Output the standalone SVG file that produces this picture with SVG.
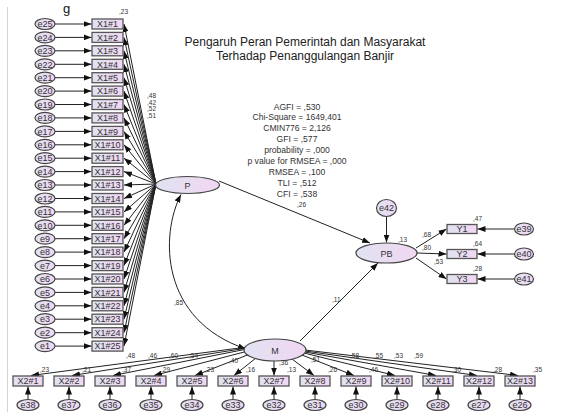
<svg xmlns="http://www.w3.org/2000/svg" width="579" height="412" viewBox="0 0 579 412">
<defs>
<linearGradient id="fillG" x1="0" y1="0" x2="1" y2="0">
<stop offset="0" stop-color="#dfe3f1"/>
<stop offset="1" stop-color="#f2d6f2"/>
</linearGradient>
<marker id="ah" markerWidth="9" markerHeight="6" refX="8" refY="3" orient="auto-start-reverse" markerUnits="userSpaceOnUse">
<path d="M0,0 L8,3 L0,6 z" fill="#111"/>
</marker>
</defs>
<style>
.bx{fill:url(#fillG);stroke:#555;stroke-width:1.3}
.el{fill:url(#fillG);stroke:#444;stroke-width:1.2}
.t{font-family:"Liberation Sans",Arial,sans-serif;font-size:9px;fill:#333;text-anchor:middle}
.s{font-family:"Liberation Sans",Arial,sans-serif;font-size:6.5px;fill:#333}
.st{font-family:"Liberation Sans",Arial,sans-serif;font-size:8.6px;fill:#333;text-anchor:middle}
.ti{font-family:"Liberation Sans",Arial,sans-serif;font-size:12px;fill:#222;text-anchor:middle}
.c line,.c path{stroke:#222;stroke-width:1;fill:none;marker-end:url(#ah)}
</style>
<rect width="579" height="412" fill="#fff"/>
<line x1="7.5" y1="7" x2="7.5" y2="412" stroke="#d4d4d4" stroke-width="1"/>
<text x="63" y="12.5" font-family="Liberation Sans,Arial,sans-serif" font-size="13" fill="#111">g</text>
<text class="ti" x="305" y="46">Pengaruh Peran Pemerintah dan Masyarakat</text>
<text class="ti" x="305" y="60">Terhadap Penanggulangan Banjir</text>
<g id="stats">
<text class="st" x="297" y="109.5">AGFI = ,530</text>
<text class="st" x="297" y="120.4">Chi-Square = 1649,401</text>
<text class="st" x="297" y="131.3">CMIN776 = 2,126</text>
<text class="st" x="297" y="142.2">GFI = ,577</text>
<text class="st" x="297" y="153.1">probability = ,000</text>
<text class="st" x="297" y="164">p value for RMSEA = ,000</text>
<text class="st" x="297" y="174.9">RMSEA = ,100</text>
<text class="st" x="297" y="185.8">TLI = ,512</text>
<text class="st" x="297" y="196.7">CFI = ,538</text>
</g>
<g id="connectors" class="c">
<line x1="55" y1="24" x2="91.5" y2="24"/>
<line x1="55" y1="37.4" x2="91.5" y2="37.4"/>
<line x1="55" y1="50.8" x2="91.5" y2="50.8"/>
<line x1="55" y1="64.3" x2="91.5" y2="64.3"/>
<line x1="55" y1="77.7" x2="91.5" y2="77.7"/>
<line x1="55" y1="91.1" x2="91.5" y2="91.1"/>
<line x1="55" y1="104.5" x2="91.5" y2="104.5"/>
<line x1="55" y1="117.9" x2="91.5" y2="117.9"/>
<line x1="55" y1="131.4" x2="91.5" y2="131.4"/>
<line x1="55" y1="144.8" x2="91.5" y2="144.8"/>
<line x1="55" y1="158.2" x2="91.5" y2="158.2"/>
<line x1="55" y1="171.6" x2="91.5" y2="171.6"/>
<line x1="55" y1="185" x2="91.5" y2="185"/>
<line x1="55" y1="198.5" x2="91.5" y2="198.5"/>
<line x1="55" y1="211.9" x2="91.5" y2="211.9"/>
<line x1="55" y1="225.3" x2="91.5" y2="225.3"/>
<line x1="55" y1="238.7" x2="91.5" y2="238.7"/>
<line x1="55" y1="252.1" x2="91.5" y2="252.1"/>
<line x1="55" y1="265.6" x2="91.5" y2="265.6"/>
<line x1="55" y1="279" x2="91.5" y2="279"/>
<line x1="55" y1="292.4" x2="91.5" y2="292.4"/>
<line x1="55" y1="305.8" x2="91.5" y2="305.8"/>
<line x1="55" y1="319.2" x2="91.5" y2="319.2"/>
<line x1="55" y1="332.7" x2="91.5" y2="332.7"/>
<line x1="55" y1="346.1" x2="91.5" y2="346.1"/>
<line x1="156" y1="184" x2="124" y2="24"/>
<line x1="156" y1="184" x2="124" y2="37.4"/>
<line x1="156" y1="184" x2="124" y2="50.8"/>
<line x1="156" y1="184" x2="124" y2="64.3"/>
<line x1="156" y1="184" x2="124" y2="77.7"/>
<line x1="156" y1="184" x2="124" y2="91.1"/>
<line x1="156" y1="184" x2="124" y2="104.5"/>
<line x1="156" y1="184" x2="124" y2="117.9"/>
<line x1="156" y1="184" x2="124" y2="131.4"/>
<line x1="156" y1="184" x2="124" y2="144.8"/>
<line x1="156" y1="184" x2="124" y2="158.2"/>
<line x1="156" y1="184" x2="124" y2="171.6"/>
<line x1="156" y1="184" x2="124" y2="185"/>
<line x1="156" y1="184" x2="124" y2="198.5"/>
<line x1="156" y1="184" x2="124" y2="211.9"/>
<line x1="156" y1="184" x2="124" y2="225.3"/>
<line x1="156" y1="184" x2="124" y2="238.7"/>
<line x1="156" y1="184" x2="124" y2="252.1"/>
<line x1="156" y1="184" x2="124" y2="265.6"/>
<line x1="156" y1="184" x2="124" y2="279"/>
<line x1="156" y1="184" x2="124" y2="292.4"/>
<line x1="156" y1="184" x2="124" y2="305.8"/>
<line x1="156" y1="184" x2="124" y2="319.2"/>
<line x1="156" y1="184" x2="124" y2="332.7"/>
<line x1="156" y1="184" x2="124" y2="346.1"/>
<line x1="219" y1="181" x2="370" y2="243"/>
<line x1="386.5" y1="216.5" x2="386.5" y2="242.5"/>
<line x1="300" y1="341" x2="378" y2="263"/>
<path d="M246,349 C160,320 160,235 181,194.5" style="marker-start:url(#ah)"/>
<line x1="416" y1="248" x2="446.5" y2="229"/>
<line x1="417" y1="253" x2="446.5" y2="254"/>
<line x1="416" y1="258" x2="446.5" y2="279"/>
<line x1="514.5" y1="229" x2="477.5" y2="229"/>
<line x1="514.5" y1="254" x2="477.5" y2="254"/>
<line x1="514.5" y1="279" x2="477.5" y2="279"/>
<line x1="247" y1="347" x2="31" y2="375.5"/>
<line x1="247" y1="348" x2="72" y2="375.5"/>
<line x1="247" y1="349" x2="113" y2="375.5"/>
<line x1="248" y1="351" x2="154" y2="375.5"/>
<line x1="250" y1="354" x2="195" y2="375.5"/>
<line x1="256" y1="358" x2="234" y2="375.5"/>
<line x1="274" y1="361" x2="274" y2="375.5"/>
<line x1="292" y1="359" x2="314" y2="375.5"/>
<line x1="302" y1="355" x2="354" y2="375.5"/>
<line x1="304" y1="353" x2="395" y2="375.5"/>
<line x1="305" y1="352" x2="436" y2="375.5"/>
<line x1="305" y1="351" x2="477" y2="375.5"/>
<line x1="305" y1="350" x2="518" y2="375.5"/>
<line x1="28" y1="399.5" x2="28" y2="386.5"/>
<line x1="69" y1="399.5" x2="69" y2="386.5"/>
<line x1="110" y1="399.5" x2="110" y2="386.5"/>
<line x1="151" y1="399.5" x2="151" y2="386.5"/>
<line x1="192" y1="399.5" x2="192" y2="386.5"/>
<line x1="233" y1="399.5" x2="233" y2="386.5"/>
<line x1="274" y1="399.5" x2="274" y2="386.5"/>
<line x1="315" y1="399.5" x2="315" y2="386.5"/>
<line x1="356" y1="399.5" x2="356" y2="386.5"/>
<line x1="397" y1="399.5" x2="397" y2="386.5"/>
<line x1="438" y1="399.5" x2="438" y2="386.5"/>
<line x1="479" y1="399.5" x2="479" y2="386.5"/>
<line x1="520" y1="399.5" x2="520" y2="386.5"/>
</g>
<g id="P"><ellipse class="el" cx="187.5" cy="185" rx="32" ry="8.5"/><text class="t" x="187.5" y="188.5">P</text></g>
<g id="M"><ellipse class="el" cx="275" cy="350" rx="31" ry="11"/><text class="t" x="275" y="353.5">M</text></g>
<g id="PB"><ellipse class="el" cx="386.5" cy="253" rx="30.5" ry="10"/><text class="t" x="386.5" y="256.5">PB</text></g>
<g id="e42"><ellipse class="el" cx="386.5" cy="208" rx="10" ry="8.5"/><text class="t" x="386.5" y="211">e42</text></g>
<g id="Y1"><rect class="bx" x="447" y="224.5" width="30" height="9"/><text class="t" x="462" y="232">Y1</text></g>
<g id="Y2"><rect class="bx" x="447" y="249.5" width="30" height="9"/><text class="t" x="462" y="257">Y2</text></g>
<g id="Y3"><rect class="bx" x="447" y="274.5" width="30" height="9"/><text class="t" x="462" y="282">Y3</text></g>
<g id="e39"><ellipse class="el" cx="524" cy="229" rx="9.5" ry="6"/><text class="t" x="524" y="232">e39</text></g>
<g id="e40"><ellipse class="el" cx="524" cy="254" rx="9.5" ry="6"/><text class="t" x="524" y="257">e40</text></g>
<g id="e41"><ellipse class="el" cx="524" cy="279" rx="9.5" ry="6"/><text class="t" x="524" y="282">e41</text></g>
<g id="X1_1"><rect class="bx" x="92" y="19" width="31" height="10"/><text class="t" x="107.5" y="27.2">X1#1</text></g>
<g id="X1_2"><rect class="bx" x="92" y="32.4" width="31" height="10"/><text class="t" x="107.5" y="40.6">X1#2</text></g>
<g id="X1_3"><rect class="bx" x="92" y="45.8" width="31" height="10"/><text class="t" x="107.5" y="54">X1#3</text></g>
<g id="X1_4"><rect class="bx" x="92" y="59.3" width="31" height="10"/><text class="t" x="107.5" y="67.5">X1#4</text></g>
<g id="X1_5"><rect class="bx" x="92" y="72.7" width="31" height="10"/><text class="t" x="107.5" y="80.9">X1#5</text></g>
<g id="X1_6"><rect class="bx" x="92" y="86.1" width="31" height="10"/><text class="t" x="107.5" y="94.3">X1#6</text></g>
<g id="X1_7"><rect class="bx" x="92" y="99.5" width="31" height="10"/><text class="t" x="107.5" y="107.7">X1#7</text></g>
<g id="X1_8"><rect class="bx" x="92" y="112.9" width="31" height="10"/><text class="t" x="107.5" y="121.1">X1#8</text></g>
<g id="X1_9"><rect class="bx" x="92" y="126.4" width="31" height="10"/><text class="t" x="107.5" y="134.6">X1#9</text></g>
<g id="X1_10"><rect class="bx" x="92" y="139.8" width="31" height="10"/><text class="t" x="107.5" y="148">X1#10</text></g>
<g id="X1_11"><rect class="bx" x="92" y="153.2" width="31" height="10"/><text class="t" x="107.5" y="161.4">X1#11</text></g>
<g id="X1_12"><rect class="bx" x="92" y="166.6" width="31" height="10"/><text class="t" x="107.5" y="174.8">X1#12</text></g>
<g id="X1_13"><rect class="bx" x="92" y="180" width="31" height="10"/><text class="t" x="107.5" y="188.2">X1#13</text></g>
<g id="X1_14"><rect class="bx" x="92" y="193.5" width="31" height="10"/><text class="t" x="107.5" y="201.7">X1#14</text></g>
<g id="X1_15"><rect class="bx" x="92" y="206.9" width="31" height="10"/><text class="t" x="107.5" y="215.1">X1#15</text></g>
<g id="X1_16"><rect class="bx" x="92" y="220.3" width="31" height="10"/><text class="t" x="107.5" y="228.5">X1#16</text></g>
<g id="X1_17"><rect class="bx" x="92" y="233.7" width="31" height="10"/><text class="t" x="107.5" y="241.9">X1#17</text></g>
<g id="X1_18"><rect class="bx" x="92" y="247.1" width="31" height="10"/><text class="t" x="107.5" y="255.3">X1#18</text></g>
<g id="X1_19"><rect class="bx" x="92" y="260.6" width="31" height="10"/><text class="t" x="107.5" y="268.8">X1#19</text></g>
<g id="X1_20"><rect class="bx" x="92" y="274" width="31" height="10"/><text class="t" x="107.5" y="282.2">X1#20</text></g>
<g id="X1_21"><rect class="bx" x="92" y="287.4" width="31" height="10"/><text class="t" x="107.5" y="295.6">X1#21</text></g>
<g id="X1_22"><rect class="bx" x="92" y="300.8" width="31" height="10"/><text class="t" x="107.5" y="309">X1#22</text></g>
<g id="X1_23"><rect class="bx" x="92" y="314.2" width="31" height="10"/><text class="t" x="107.5" y="322.4">X1#23</text></g>
<g id="X1_24"><rect class="bx" x="92" y="327.7" width="31" height="10"/><text class="t" x="107.5" y="335.9">X1#24</text></g>
<g id="X1_25"><rect class="bx" x="92" y="341.1" width="31" height="10"/><text class="t" x="107.5" y="349.3">X1#25</text></g>
<g id="e25"><ellipse class="el" cx="45" cy="24" rx="10" ry="5.5"/><text class="t" x="45" y="27.2">e25</text></g>
<g id="e24"><ellipse class="el" cx="45" cy="37.4" rx="10" ry="5.5"/><text class="t" x="45" y="40.6">e24</text></g>
<g id="e23"><ellipse class="el" cx="45" cy="50.8" rx="10" ry="5.5"/><text class="t" x="45" y="54">e23</text></g>
<g id="e22"><ellipse class="el" cx="45" cy="64.3" rx="10" ry="5.5"/><text class="t" x="45" y="67.5">e22</text></g>
<g id="e21"><ellipse class="el" cx="45" cy="77.7" rx="10" ry="5.5"/><text class="t" x="45" y="80.9">e21</text></g>
<g id="e20"><ellipse class="el" cx="45" cy="91.1" rx="10" ry="5.5"/><text class="t" x="45" y="94.3">e20</text></g>
<g id="e19"><ellipse class="el" cx="45" cy="104.5" rx="10" ry="5.5"/><text class="t" x="45" y="107.7">e19</text></g>
<g id="e18"><ellipse class="el" cx="45" cy="117.9" rx="10" ry="5.5"/><text class="t" x="45" y="121.1">e18</text></g>
<g id="e17"><ellipse class="el" cx="45" cy="131.4" rx="10" ry="5.5"/><text class="t" x="45" y="134.6">e17</text></g>
<g id="e16"><ellipse class="el" cx="45" cy="144.8" rx="10" ry="5.5"/><text class="t" x="45" y="148">e16</text></g>
<g id="e15"><ellipse class="el" cx="45" cy="158.2" rx="10" ry="5.5"/><text class="t" x="45" y="161.4">e15</text></g>
<g id="e14"><ellipse class="el" cx="45" cy="171.6" rx="10" ry="5.5"/><text class="t" x="45" y="174.8">e14</text></g>
<g id="e13"><ellipse class="el" cx="45" cy="185" rx="10" ry="5.5"/><text class="t" x="45" y="188.2">e13</text></g>
<g id="e12"><ellipse class="el" cx="45" cy="198.5" rx="10" ry="5.5"/><text class="t" x="45" y="201.7">e12</text></g>
<g id="e11"><ellipse class="el" cx="45" cy="211.9" rx="10" ry="5.5"/><text class="t" x="45" y="215.1">e11</text></g>
<g id="e10"><ellipse class="el" cx="45" cy="225.3" rx="10" ry="5.5"/><text class="t" x="45" y="228.5">e10</text></g>
<g id="e9"><ellipse class="el" cx="45" cy="238.7" rx="10" ry="5.5"/><text class="t" x="45" y="241.9">e9</text></g>
<g id="e8"><ellipse class="el" cx="45" cy="252.1" rx="10" ry="5.5"/><text class="t" x="45" y="255.3">e8</text></g>
<g id="e7"><ellipse class="el" cx="45" cy="265.6" rx="10" ry="5.5"/><text class="t" x="45" y="268.8">e7</text></g>
<g id="e6"><ellipse class="el" cx="45" cy="279" rx="10" ry="5.5"/><text class="t" x="45" y="282.2">e6</text></g>
<g id="e5"><ellipse class="el" cx="45" cy="292.4" rx="10" ry="5.5"/><text class="t" x="45" y="295.6">e5</text></g>
<g id="e4"><ellipse class="el" cx="45" cy="305.8" rx="10" ry="5.5"/><text class="t" x="45" y="309">e4</text></g>
<g id="e3"><ellipse class="el" cx="45" cy="319.2" rx="10" ry="5.5"/><text class="t" x="45" y="322.4">e3</text></g>
<g id="e2"><ellipse class="el" cx="45" cy="332.7" rx="10" ry="5.5"/><text class="t" x="45" y="335.9">e2</text></g>
<g id="e1"><ellipse class="el" cx="45" cy="346.1" rx="10" ry="5.5"/><text class="t" x="45" y="349.3">e1</text></g>
<g id="X2_1"><rect class="bx" x="13" y="376" width="30" height="10"/><text class="t" x="28" y="384.2">X2#1</text></g>
<g id="X2_2"><rect class="bx" x="54" y="376" width="30" height="10"/><text class="t" x="69" y="384.2">X2#2</text></g>
<g id="X2_3"><rect class="bx" x="95" y="376" width="30" height="10"/><text class="t" x="110" y="384.2">X2#3</text></g>
<g id="X2_4"><rect class="bx" x="136" y="376" width="30" height="10"/><text class="t" x="151" y="384.2">X2#4</text></g>
<g id="X2_5"><rect class="bx" x="177" y="376" width="30" height="10"/><text class="t" x="192" y="384.2">X2#5</text></g>
<g id="X2_6"><rect class="bx" x="218" y="376" width="30" height="10"/><text class="t" x="233" y="384.2">X2#6</text></g>
<g id="X2_7"><rect class="bx" x="259" y="376" width="30" height="10"/><text class="t" x="274" y="384.2">X2#7</text></g>
<g id="X2_8"><rect class="bx" x="300" y="376" width="30" height="10"/><text class="t" x="315" y="384.2">X2#8</text></g>
<g id="X2_9"><rect class="bx" x="341" y="376" width="30" height="10"/><text class="t" x="356" y="384.2">X2#9</text></g>
<g id="X2_10"><rect class="bx" x="382" y="376" width="30" height="10"/><text class="t" x="397" y="384.2">X2#10</text></g>
<g id="X2_11"><rect class="bx" x="423" y="376" width="30" height="10"/><text class="t" x="438" y="384.2">X2#11</text></g>
<g id="X2_12"><rect class="bx" x="464" y="376" width="30" height="10"/><text class="t" x="479" y="384.2">X2#12</text></g>
<g id="X2_13"><rect class="bx" x="505" y="376" width="30" height="10"/><text class="t" x="520" y="384.2">X2#13</text></g>
<g id="e38"><ellipse class="el" cx="28" cy="405" rx="11" ry="5.5"/><text class="t" x="28" y="408.2">e38</text></g>
<g id="e37"><ellipse class="el" cx="69" cy="405" rx="11" ry="5.5"/><text class="t" x="69" y="408.2">e37</text></g>
<g id="e36"><ellipse class="el" cx="110" cy="405" rx="11" ry="5.5"/><text class="t" x="110" y="408.2">e36</text></g>
<g id="e35"><ellipse class="el" cx="151" cy="405" rx="11" ry="5.5"/><text class="t" x="151" y="408.2">e35</text></g>
<g id="e34"><ellipse class="el" cx="192" cy="405" rx="11" ry="5.5"/><text class="t" x="192" y="408.2">e34</text></g>
<g id="e33"><ellipse class="el" cx="233" cy="405" rx="11" ry="5.5"/><text class="t" x="233" y="408.2">e33</text></g>
<g id="e32"><ellipse class="el" cx="274" cy="405" rx="11" ry="5.5"/><text class="t" x="274" y="408.2">e32</text></g>
<g id="e31"><ellipse class="el" cx="315" cy="405" rx="11" ry="5.5"/><text class="t" x="315" y="408.2">e31</text></g>
<g id="e30"><ellipse class="el" cx="356" cy="405" rx="11" ry="5.5"/><text class="t" x="356" y="408.2">e30</text></g>
<g id="e29"><ellipse class="el" cx="397" cy="405" rx="11" ry="5.5"/><text class="t" x="397" y="408.2">e29</text></g>
<g id="e28"><ellipse class="el" cx="438" cy="405" rx="11" ry="5.5"/><text class="t" x="438" y="408.2">e28</text></g>
<g id="e27"><ellipse class="el" cx="479" cy="405" rx="11" ry="5.5"/><text class="t" x="479" y="408.2">e27</text></g>
<g id="e26"><ellipse class="el" cx="520" cy="405" rx="11" ry="5.5"/><text class="t" x="520" y="408.2">e26</text></g>
<g id="labels">
<text class="s" x="119" y="14">,23</text>
<text class="s" x="147" y="98">,48</text>
<text class="s" x="147" y="104.5">,42</text>
<text class="s" x="147" y="111">,52</text>
<text class="s" x="147" y="117.5">,51</text>
<text class="s" x="297" y="207">,26</text>
<text class="s" x="398" y="242">,13</text>
<text class="s" x="332" y="302">,11</text>
<text class="s" x="174" y="305">,85</text>
<text class="s" x="473" y="221">,47</text>
<text class="s" x="473" y="246">,64</text>
<text class="s" x="473" y="271">,28</text>
<text class="s" x="422" y="237">,68</text>
<text class="s" x="422" y="250">,80</text>
<text class="s" x="434" y="264">,53</text>
<text class="s" x="126" y="358">,48</text>
<text class="s" x="148" y="358">,46</text>
<text class="s" x="169" y="358">,60</text>
<text class="s" x="189" y="358">,54</text>
<text class="s" x="229" y="363">,40</text>
<text class="s" x="279" y="365">,36</text>
<text class="s" x="311" y="362">,51</text>
<text class="s" x="350" y="358">,58</text>
<text class="s" x="374" y="358">,55</text>
<text class="s" x="394" y="358">,53</text>
<text class="s" x="414" y="358">,59</text>
<text class="s" x="40" y="372">,23</text>
<text class="s" x="82" y="372">,21</text>
<text class="s" x="122" y="372">,37</text>
<text class="s" x="161" y="372">,29</text>
<text class="s" x="205" y="372">,23</text>
<text class="s" x="246" y="372">,16</text>
<text class="s" x="287" y="372">,13</text>
<text class="s" x="328" y="372">,26</text>
<text class="s" x="369" y="372">,46</text>
<text class="s" x="452" y="372">,30</text>
<text class="s" x="493" y="372">,28</text>
<text class="s" x="533" y="372">,35</text>
</g>
</svg>
